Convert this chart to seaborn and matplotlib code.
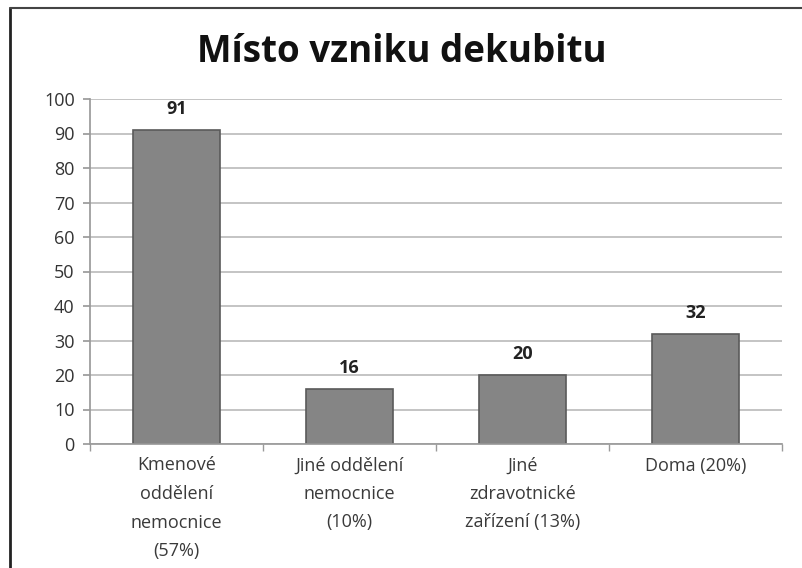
import matplotlib
matplotlib.use("Agg")
import matplotlib.pyplot as plt
import seaborn as sns
import pandas as pd
from matplotlib.lines import Line2D

# data
categories = ["Kmenové\noddělení\nnemocnice\n(57%)",
              "Jiné oddělení\nnemocnice\n(10%)",
              "Jiné\nzdravotnické\nzařízení (13%)",
              "Doma (20%)"]
counts = [91, 16, 20, 32]
title = "Místo vzniku dekubitu"

df = pd.DataFrame({"misto": categories, "pocet": counts})

sns.set_theme(style="white")
plt.rcParams['font.family'] = ['Open Sans', 'DejaVu Sans']

fig = plt.figure(figsize=(8.03, 5.68), dpi=100)
ax = fig.add_axes([90 / 803, 1 - 444 / 568, 692 / 803, 345 / 568])

sns.barplot(data=df, x="misto", y="pocet", ax=ax, color="#858585",
            saturation=1, width=0.5, edgecolor="#5a5a5a", linewidth=1.2)

ax.set_ylim(0, 100)
ax.set_xlim(-0.5, 3.5)
ax.set_yticks(range(0, 101, 10))
ax.yaxis.grid(True, color="#b4b4b4", linewidth=1.1)
ax.set_axisbelow(True)
ax.set_xlabel("")
ax.set_ylabel("")

for s in ["top", "right"]:
    ax.spines[s].set_visible(False)
ax.spines["left"].set_color("#9a9a9a")
ax.spines["bottom"].set_color("#9a9a9a")

ax.tick_params(axis="y", labelsize=13, colors="#9a9a9a", labelcolor="#333333",
               length=5, left=True, pad=6)
ax.tick_params(axis="x", labelsize=13, labelcolor="#3a3a3a", length=0, pad=9)
ax.set_xticks(range(len(categories)))
ax.set_xticklabels(categories, linespacing=1.75)
ax.set_xticks([-0.5, 0.5, 1.5, 2.5, 3.5], minor=True)
ax.tick_params(axis="x", which="minor", length=5, color="#9a9a9a", bottom=True)

for i, v in enumerate(counts):
    ax.text(i, v + 3.5, str(v), ha="center", va="bottom", fontsize=13,
            fontweight="bold", color="#222222")

fig.text(0.5, 1 - 52 / 568, title, ha="center", va="center", fontsize=26.5,
         fontweight="bold", color="#111111")

# outer frame (left and top edges visible)
fig.add_artist(Line2D([10 / 803, 10 / 803], [0, 1 - 8 / 568],
                      transform=fig.transFigure, color="#222222", linewidth=2))
fig.add_artist(Line2D([10 / 803, 1], [1 - 8 / 568, 1 - 8 / 568],
                      transform=fig.transFigure, color="#444444", linewidth=1.5))

fig.savefig("out.png", dpi=100)
